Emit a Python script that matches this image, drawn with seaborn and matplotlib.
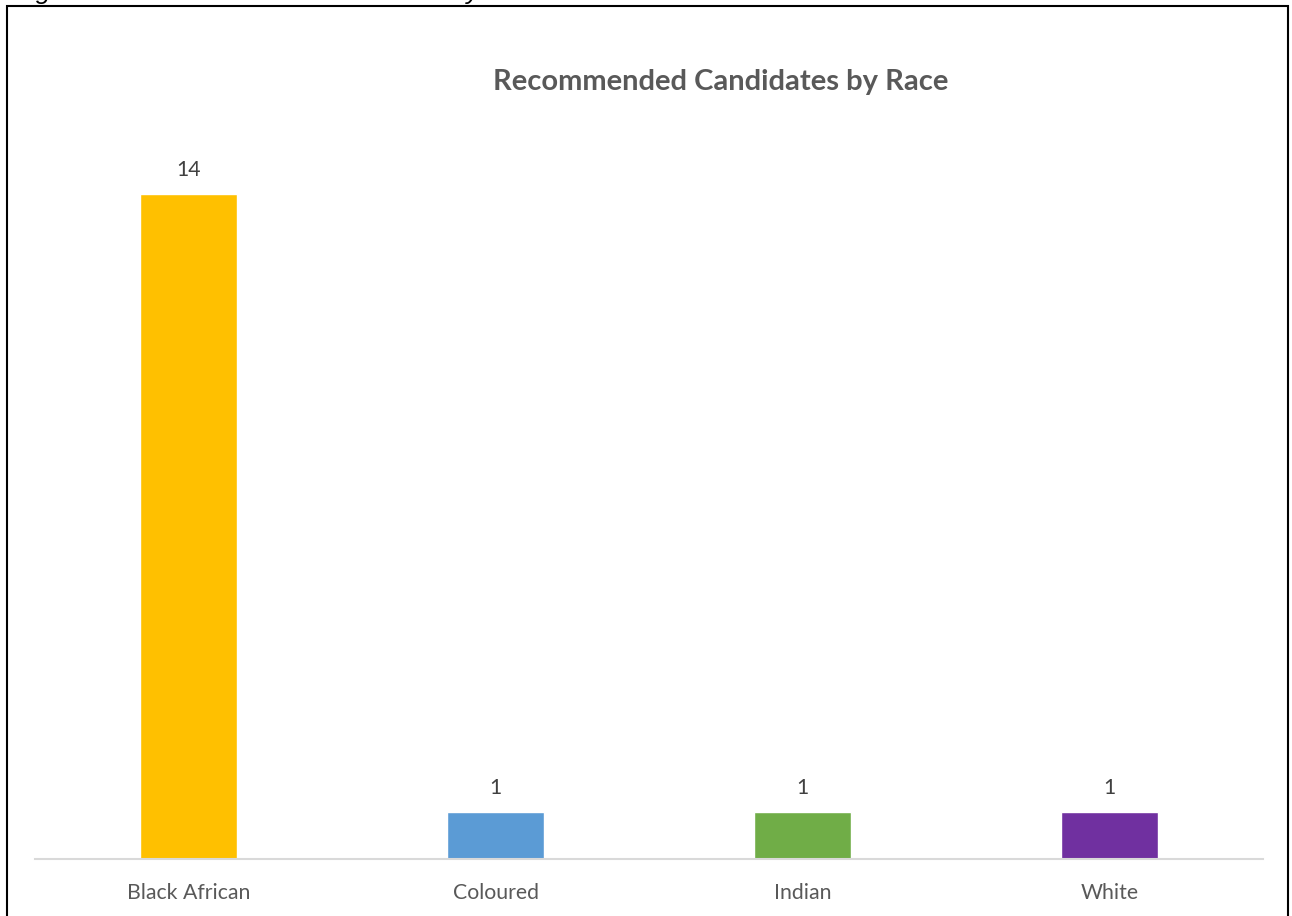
import pandas as pd
import seaborn as sns
import matplotlib.pyplot as plt
from matplotlib.patches import Rectangle

races = ["Black African", "Coloured", "Indian", "White"]
counts = [14, 1, 1, 1]
bar_colors = ["#FFC000", "#5B9BD5", "#70AD47", "#7030A0"]

df = pd.DataFrame({"race": races, "count": counts})

sns.set_style("white")
plt.rcParams['font.family'] = ['Lato', 'DejaVu Sans']

fig = plt.figure(figsize=(12.92, 9.16), dpi=100)
ax = fig.add_axes([35 / 1292, 57 / 916, 1228 / 1292, 760 / 916])

sns.barplot(data=df, x="race", y="count", hue="race", palette=bar_colors,
            width=0.316, legend=False, saturation=1, ax=ax)

ax.set_ylim(0, 16)
ax.set_xlim(-0.5, len(races) - 0.5)
ax.set_xlabel("")
ax.set_ylabel("")
ax.set_yticks([])
for side in ["top", "left", "right"]:
    ax.spines[side].set_visible(False)
ax.spines["bottom"].set_color("#D9D9D9")
ax.spines["bottom"].set_linewidth(1.5)
ax.tick_params(axis="x", length=0, pad=17, labelsize=15.3, labelcolor="#595959")

for c in ax.containers:
    ax.bar_label(c, padding=10, fontsize=15.3, color="#404040")

fig.text(721 / 1292, 1 - 82 / 916, "Recommended Candidates by Race",
         ha="center", va="center", fontsize=21, fontweight="bold", color="#595959")

# caption of the source document, mostly cut off at the top edge
fig.text(14 / 1292, 1 + 1 / 916, "Figure 5: Recommended Candidates by Race",
         ha="left", va="baseline", fontsize=19, style="italic",
         family=["Liberation Sans", "DejaVu Sans"], color="black")

# chart frame
fig.patches.append(Rectangle((7 / 1292, -0.01), 1281 / 1292, 1 - 6 / 916 + 0.01,
                             transform=fig.transFigure, fill=False,
                             edgecolor="black", linewidth=1.5))

plt.savefig("out.png", dpi=100)
plt.close()
